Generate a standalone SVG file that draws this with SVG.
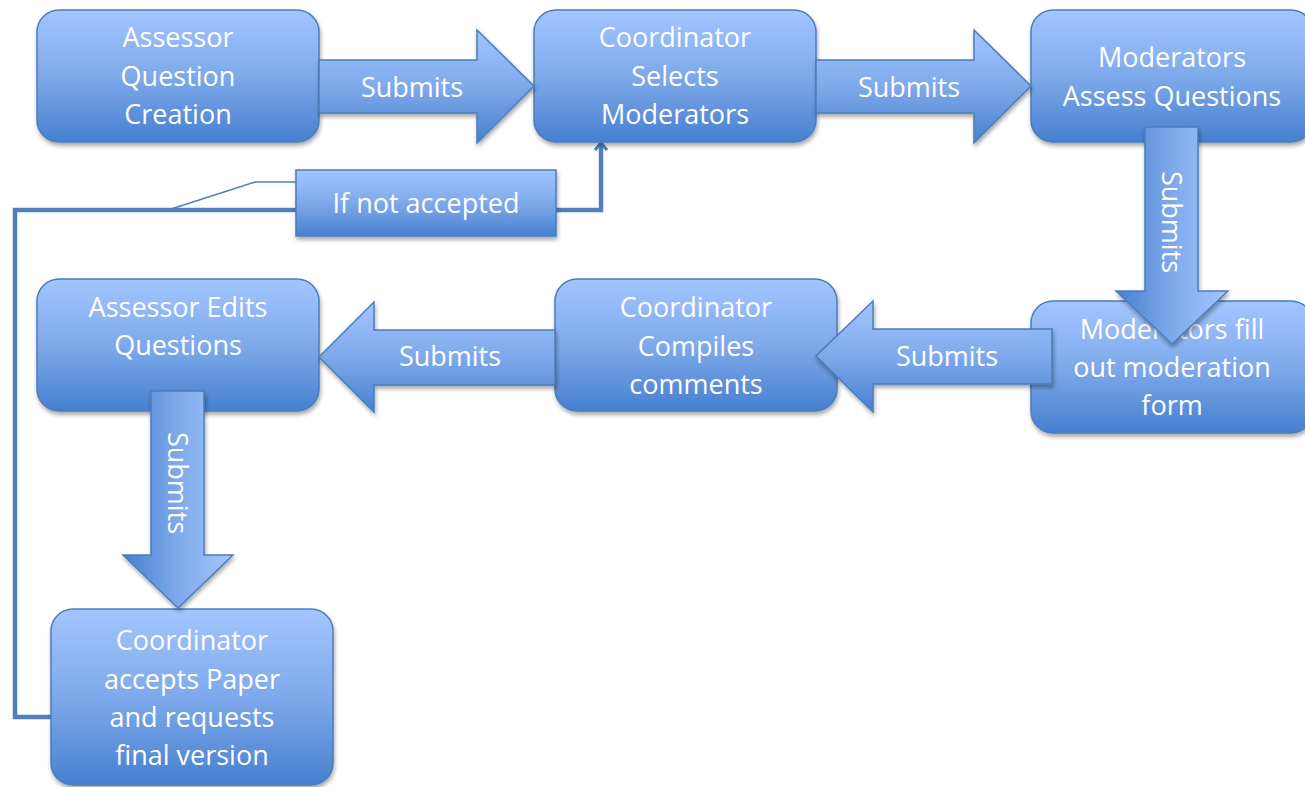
<svg xmlns="http://www.w3.org/2000/svg" width="1305" height="787" viewBox="0 0 1305 787">
<defs>
<linearGradient id="gv" x1="0" y1="0" x2="0" y2="1">
<stop offset="0" stop-color="#A3C5FF"/>
<stop offset="0.5" stop-color="#7FA9EB"/>
<stop offset="1" stop-color="#4680CF"/>
</linearGradient>
<linearGradient id="gh" x1="1" y1="0" x2="0" y2="0">
<stop offset="0" stop-color="#A3C5FF"/>
<stop offset="0.5" stop-color="#7FA9EB"/>
<stop offset="1" stop-color="#4680CF"/>
</linearGradient>
<filter id="sh" x="-10%" y="-10%" width="125%" height="130%">
<feGaussianBlur in="SourceAlpha" stdDeviation="2"/>
<feOffset dx="1" dy="3" result="b"/>
<feComponentTransfer><feFuncA type="linear" slope="0.35"/></feComponentTransfer>
<feMerge><feMergeNode/><feMergeNode in="SourceGraphic"/></feMerge>
</filter>
<marker id="ah" viewBox="0 0 14 14" refX="12" refY="7" markerWidth="14" markerHeight="14" markerUnits="userSpaceOnUse" orient="auto">
<path d="M5,1 L12,7 L5,13" fill="none" stroke="#4F81BD" stroke-width="3"/>
</marker>
</defs>
<style>
.box{fill:url(#gv);stroke:#4A7EBB;stroke-width:1.5;filter:url(#sh)}
.arr{fill:url(#gv);stroke:#4A7EBB;stroke-width:1.5;filter:url(#sh)}
.arrv{fill:url(#gh);stroke:#4A7EBB;stroke-width:1.5;filter:url(#sh)}
.t{font-family:"Open Sans","Liberation Sans",sans-serif;font-size:27px;fill:#FFFFFF;text-anchor:middle}
.conn{fill:none;stroke:#4F81BD;stroke-width:4.5;stroke-linejoin:miter}
.call{fill:none;stroke:#4F81BD;stroke-width:1.5}
</style>

<g id="connectors">
<path class="conn" d="M57,717 H15 V210 H296 M556,210 H601 V143" marker-end="url(#ah)"/>
<path class="call" d="M168,210 L255,182 H296"/>
</g>

<g id="n1">
<rect class="box" x="37" y="10" width="282" height="132" rx="22"/>
<text class="t" x="178" y="47">Assessor</text>
<text class="t" x="178" y="86">Question</text>
<text class="t" x="178" y="124">Creation</text>
</g>

<g id="n2">
<rect class="box" x="534" y="10" width="282" height="132" rx="22"/>
<text class="t" x="675" y="47">Coordinator</text>
<text class="t" x="675" y="86">Selects</text>
<text class="t" x="675" y="124">Moderators</text>
</g>

<g id="n3">
<rect class="box" x="1031" y="10" width="282" height="132" rx="22"/>
<text class="t" x="1172" y="67">Moderators</text>
<text class="t" x="1172" y="106">Assess Questions</text>
</g>

<g id="n4">
<rect class="box" x="1031" y="301" width="282" height="132" rx="22"/>
<text class="t" x="1172" y="339">Moderators fill</text>
<text class="t" x="1172" y="377">out moderation</text>
<text class="t" x="1172" y="415">form</text>
</g>

<g id="n5">
<rect class="box" x="555" y="279" width="282" height="132" rx="22"/>
<text class="t" x="696" y="317">Coordinator</text>
<text class="t" x="696" y="356">Compiles</text>
<text class="t" x="696" y="394">comments</text>
</g>

<g id="n6">
<rect class="box" x="37" y="279" width="282" height="132" rx="22"/>
<text class="t" x="178" y="317">Assessor Edits</text>
<text class="t" x="178" y="355">Questions</text>
</g>

<g id="n7">
<rect class="box" x="51" y="609" width="282" height="176" rx="22"/>
<text class="t" x="192" y="650">Coordinator</text>
<text class="t" x="192" y="689">accepts Paper</text>
<text class="t" x="192" y="727">and requests</text>
<text class="t" x="192" y="765">final version</text>
</g>

<g id="label-not-accepted">
<rect class="box" x="296" y="170" width="260" height="66"/>
<text class="t" x="426" y="213">If not accepted</text>
</g>

<g id="a1">
<path class="arr" d="M319,60 H477 V30 L534,86 L477,143 V113 H319 Z"/>
<text class="t" x="412" y="97">Submits</text>
</g>

<g id="a2">
<path class="arr" d="M816,60 H974 V30 L1031,86 L974,143 V113 H816 Z"/>
<text class="t" x="909" y="97">Submits</text>
</g>

<g id="a3">
<path class="arrv" d="M1145,127 H1198 V291 H1228 L1172,344 L1116,291 H1145 Z"/>
<text class="t" transform="translate(1162,222) rotate(90)">Submits</text>
</g>

<g id="a4">
<path class="arr" d="M1052,329 H873 V301 L816,356 L873,412 V384 H1052 Z"/>
<text class="t" x="947" y="366">Submits</text>
</g>

<g id="a5">
<path class="arr" d="M555,330 H374 V302 L319,357 L374,412 V385 H555 Z"/>
<text class="t" x="450" y="366">Submits</text>
</g>

<g id="a6">
<path class="arrv" d="M151,391 H204 V555 H233 L178,608 L123,555 H151 Z"/>
<text class="t" transform="translate(168,483) rotate(90)">Submits</text>
</g>
</svg>
